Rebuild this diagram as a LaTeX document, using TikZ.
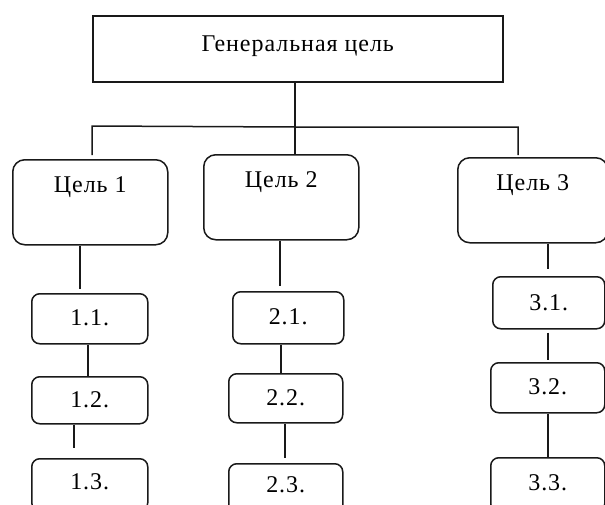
\documentclass[tikz,border=0pt]{standalone}
\usepackage{fontspec}
\setmainfont{Liberation Serif}[LetterSpace=4]
\begin{document}
\begin{tikzpicture}[x=1pt,y=-1pt,
  line/.style={draw=black!90,line width=1.5pt},
  box/.style={line, rectangle, anchor=north west, inner sep=0pt, align=center,
    font=\fontsize{24}{26}\selectfont},
  topbox/.style={box, minimum width=410pt, text height=36pt, text depth=30pt},
  goalbox/.style={box, rounded corners=12pt, text height=33pt, text depth=52pt},
  subbox/.style={box, rounded corners=8pt, minimum width=#1, minimum height=0pt}
]
\useasboundingbox (0,0) rectangle (605,504);
\clip (0,0) rectangle (605,504);

\node[topbox] (top) at (92,15) {Генеральная цель};

\node[goalbox, minimum width=155pt] (c1) at (12,159) {Цель 1};
\node[goalbox, minimum width=155pt] (c2) at (203,154) {Цель 2};
\node[goalbox, minimum width=150pt] (c3) at (457,157) {Цель 3};

\node[subbox=116pt, text height=32pt, text depth=18pt] (s11) at (31,293) {1.1.};
\node[subbox=116pt, text height=31pt, text depth=16pt] (s12) at (31,376) {1.2.};
\node[subbox=116pt, text height=31pt, text depth=21pt] (s13) at (31,458) {1.3.};

\node[subbox=111pt, text height=33pt, text depth=19pt] (s21) at (232,291) {2.1.};
\node[subbox=114pt, text height=32pt, text depth=17pt] (s22) at (228,373) {2.2.};
\node[subbox=114pt, text height=29pt, text depth=23pt] (s23) at (228,463) {2.3.};

\node[subbox=112pt, text height=34pt, text depth=18pt] (s31) at (492,276) {3.1.};
\node[subbox=114pt, text height=32pt, text depth=18pt] (s32) at (490,362) {3.2.};
\node[subbox=114pt, text height=33pt, text depth=21pt] (s33) at (490,457) {3.3.};

% junctions of the tree
\coordinate (j) at (295,127);
\coordinate (hl) at (92,126);
\coordinate (hr) at (518,127);

\draw[line] (top.south -| j) -- (j) -- (c2.north -| j);
\draw[line] ([yshift=4pt]c1.north -| hl) -- (hl) -- (j) -- (hr) -- ([yshift=2pt]c3.north -| hr);

% column 1
\draw[line, shorten >=4pt] ([xshift=-10.5pt]c1.south) -- ([xshift=-10pt]s11.north);
\draw[line] ([xshift=-2pt]s11.south) -- ([xshift=-2pt]s12.north);
\draw[line, shorten >=10pt] ([xshift=-16pt]s12.south) -- ([xshift=-16pt]s13.north);

% column 2
\draw[line, shorten >=5pt] ([xshift=-1.5pt]c2.south) -- ([xshift=-8.5pt]s21.north);
\draw[line] ([xshift=-7.5pt]s21.south) -- ([xshift=-5pt]s22.north);
\draw[line, shorten >=5pt] ([xshift=-1pt]s22.south) -- ([xshift=-1pt]s23.north);

% column 3
\draw[line, shorten >=7pt] ([xshift=15pt]c3.south) -- ([xshift=-1pt]s31.north);
\draw[line, shorten <=3pt, shorten >=2pt] ([xshift=-1pt]s31.south) -- (s32.north);
\draw[line] (s32.south) -- (s33.north);
\end{tikzpicture}
\end{document}
